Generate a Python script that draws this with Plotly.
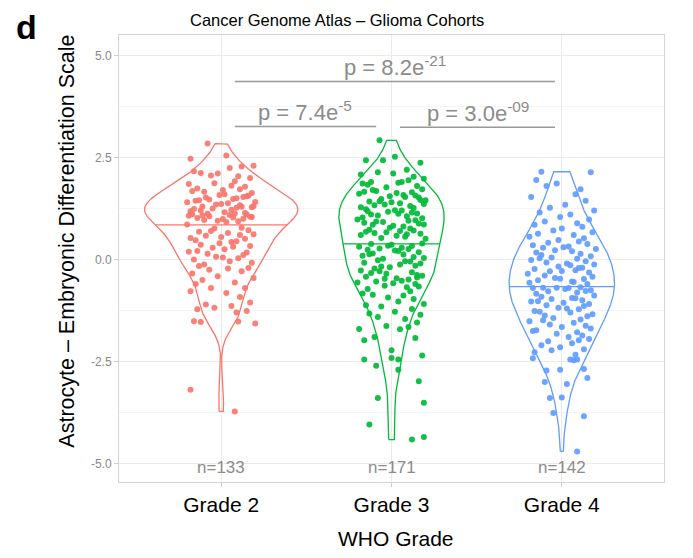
import numpy as np
import plotly.graph_objects as go

# ---------------- data ----------------
groups = ["Grade 2", "Grade 3", "Grade 4"]
colors = ["#F8766D", "#00BA38", "#619CFF"]

grade2_y = [2.84,
            2.47, 2.55,
            2.28, 2.24, 2.16, 2.30,
            2.11, 2.04, 2.12, 2.00, 2.06, 1.92,
            1.85, 1.78, 1.70, 1.66, 1.81, 1.74, 1.63, 1.87, 1.72, 1.68,
            1.60, 1.55, 1.52, 1.48, 1.45, 1.41, 1.58, 1.50, 1.44, 1.38, 1.56, 1.47, 1.53, 1.40,
            1.36, 1.33, 1.30, 1.28, 1.25, 1.22, 1.18, 1.14, 1.35, 1.27, 1.20, 1.31, 1.16, 1.24, 1.29,
            1.12, 1.09, 1.05, 1.02, 0.99, 0.97, 1.10, 1.07, 1.03, 0.95, 1.00, 1.06, 0.94, 1.11,
            0.92, 1.04, 1.08, 1.13, 0.76, 0.72, 0.68, 0.65, 0.86, 0.78, 0.70,
            0.62, 0.58, 0.55, 0.51, 0.47, 0.43, 0.40, 0.60, 0.53, 0.45,
            0.36, 0.33, 0.29, 0.25, 0.21, 0.17, 0.14, 0.31, 0.19,
            0.11, 0.07, 0.03, 0.00, -0.04, -0.08, -0.12, 0.05,
            -0.16, -0.21, -0.25, -0.29, -0.34, -0.22,
            -0.41, -0.45, -0.50, -0.56, -0.60,
            -0.70, -0.70, -0.82, -0.78,
            -0.92, -1.05, -1.10, -1.14,
            -1.22, -1.30, -1.18, -1.26,
            -1.53, -1.57, -1.51, -1.52,
            -3.19, -3.72]
grade2_jitter = [-0.08, -0.18, 0.03, 0.12, 0.05, -0.16, 0.19, -0.02, 0.10, -0.12,
                 0.17, -0.06, 0.08, -0.19, 0.14, 0.01, -0.10, 0.06, -0.14, 0.18,
                 -0.04, 0.11, -0.17, 0.02, 0.15, -0.09, 0.07, -0.13, 0.20, -0.01,
                 0.09, -0.15, 0.04, 0.16, -0.07, 0.13, -0.20, 0.00, 0.11, -0.11,
                 0.18, -0.05, 0.06, -0.18, 0.14, -0.03, 0.09, -0.12, 0.19, 0.02,
                 -0.16, 0.12, -0.08, 0.05, 0.17, -0.14, 0.01, -0.10, 0.15, -0.19,
                 0.07, -0.02, 0.13, -0.07, 0.10, -0.17, 0.03, 0.18, -0.11, 0.08,
                 -0.04, 0.16, -0.13, 0.04, -0.20, 0.12, -0.06, 0.19, -0.09, 0.00,
                 0.14, -0.15, 0.06, -0.01, 0.11, -0.18, 0.09, -0.12, 0.17, -0.05,
                 0.02, -0.14, 0.15, -0.08, 0.07, -0.19, 0.13, -0.03, 0.10, -0.16,
                 0.05, 0.18, -0.10, 0.01, -0.13, 0.16, -0.07, 0.12, -0.17, 0.04,
                 -0.02, 0.19, -0.11, 0.08, -0.15, 0.14, -0.06, 0.03, -0.18, 0.11,
                 0.17, -0.09, 0.06, -0.14, 0.09, -0.04, 0.15, -0.12, 0.20, -0.16,
                 0.10, -0.18, 0.08]

grade3_y = [2.92,
            2.43, 2.43, 2.37, 2.52,
            2.08, 2.20, 2.14, 2.03, 2.11,
            1.98, 1.90, 1.90, 1.86, 1.80, 1.77, 1.94, 1.83, 1.88,
            1.72, 1.68, 1.65, 1.61, 1.58, 1.55, 1.52, 1.70, 1.63, 1.57, 1.66, 1.53,
            1.48, 1.45, 1.42, 1.38, 1.35, 1.31, 1.28, 1.46, 1.40, 1.33, 1.26, 1.43, 1.36,
            1.23, 1.20, 1.17, 1.13, 1.10, 1.06, 1.03, 1.21, 1.15, 1.08, 1.01, 1.18, 1.12,
            0.98, 0.95, 0.92, 0.88, 0.85, 0.81, 0.78, 0.96, 0.90, 0.83, 0.76, 0.93, 0.86,
            0.73, 0.70, 0.67, 0.63, 0.60, 0.56, 0.53, 0.71, 0.65, 0.58, 0.51, 0.68, 0.62,
            -0.47, -0.44, 0.38, 0.36, 0.33, 0.31, 0.29, 0.27, 0.39, 0.34, 0.26,
            0.24, 0.21, 0.18, 0.15, 0.12, 0.09, 0.06, 0.02, 0.22, 0.13, 0.04,
            -0.02, -0.05, -0.08, -0.12, -0.15, -0.19, -0.22, -0.10, -0.17, -0.04,
            -0.27, -0.31, -0.35, -0.38, -0.42, -0.46, -0.49, -0.33, -0.40, -0.29,
            -0.52, -0.56, -0.60, -0.64, -0.68, -0.72, -0.58, -0.66, -0.54,
            -0.78, -0.83, -0.88, -0.93, -0.97, -0.86,
            -1.03, -1.09, -1.15, -1.21, -1.12,
            -1.28, -1.35, -1.41, -1.46, -1.32,
            -1.54, -1.63, -1.65, -1.70, -1.71, -1.90, -1.92, -1.98,
            -2.22, -2.35, -2.41, -2.45, -2.45, -2.60, -2.70, -2.98, -3.39, -3.51, -4.04, -4.35, -4.41]
grade3_jitter = [-0.07, -0.15, -0.05, 0.17, 0.02, -0.18, 0.09, -0.08, 0.13, 0.01,
                 0.19, -0.12, 0.06, -0.17, 0.15, -0.03, 0.10, -0.14, 0.04, 0.18,
                 -0.09, 0.12, -0.19, 0.07, -0.01, 0.16, -0.11, 0.03, 0.14, -0.16,
                 0.08, -0.06, 0.20, -0.13, 0.05, -0.04, 0.11, -0.18, 0.17, 0.00,
                 -0.10, 0.13, -0.07, 0.19, -0.15, 0.06, -0.02, 0.15, -0.12, 0.09,
                 -0.17, 0.02, 0.12, -0.08, 0.18, -0.14, 0.04, -0.20, 0.10, -0.05,
                 0.16, -0.11, 0.07, -0.01, 0.14, -0.16, 0.01, 0.11, -0.09, 0.19,
                 -0.13, 0.05, -0.03, 0.17, -0.18, 0.08, -0.06, 0.13, -0.10, 0.03,
                 0.20, -0.15, 0.09, -0.04, 0.15, -0.12, 0.00, 0.12, -0.19, 0.06,
                 -0.07, 0.18, -0.02, 0.10, -0.14, 0.04, 0.16, -0.11, 0.07, -0.17,
                 0.13, -0.05, 0.02, -0.13, 0.19, -0.08, 0.11, -0.16, 0.05, 0.14,
                 -0.01, -0.10, 0.17, -0.06, 0.08, -0.18, 0.12, -0.03, 0.15, -0.15,
                 0.03, 0.10, -0.12, 0.18, -0.07, 0.06, -0.20, 0.14, -0.04, 0.09,
                 -0.14, 0.01, 0.16, -0.09, 0.11, -0.17, 0.07, -0.02, 0.13, -0.11,
                 0.04, 0.19, -0.06, 0.12, -0.15, 0.02, 0.17, -0.08, 0.08, -0.13,
                 0.15, -0.03, 0.10, -0.19, 0.05, -0.10, 0.14, -0.16,
                 0.00, 0.18, 0.00, -0.16, 0.04, -0.09, 0.04, 0.16, -0.08, 0.19, -0.13, 0.19, 0.12]

grade4_y = [2.15, 2.14, 1.95,
            1.80, 1.72, 1.86,
            1.60, 1.53, 1.44,
            1.34, 1.27, 1.20, 1.15,
            1.10, 1.04, 0.98, 0.93, 0.89,
            0.85, 0.80, 0.76, 0.71, 0.67, 0.63,
            0.60, 0.56, 0.52, 0.48, 0.44, 0.41, 0.38,
            0.35, 0.32, 0.29, 0.26, 0.23, 0.20, 0.17, 0.14, 0.30,
            0.11, 0.08, 0.05, 0.02, -0.01, -0.04, -0.07, -0.10, -0.12, 0.03,
            -0.14, -0.17, -0.20, -0.23, -0.26, -0.29, -0.32, -0.35, -0.21, -0.28,
            -0.39, -0.42, -0.45, -0.48, -0.51, -0.54, -0.57, -0.60, -0.47, -0.55,
            -0.69, -0.68, -0.70, -0.72, -0.75, -0.78, -0.81, -0.84, -0.70, -0.77, -0.69,
            -0.88, -0.91, -0.94, -0.97, -1.00, -1.03, -1.06, -1.09, -1.12, -0.95, -1.02,
            -1.14, -1.18, -1.22, -1.26, -1.30, -1.34, -1.37, -1.20, -1.28,
            -1.39, -1.43, -1.47, -1.51, -1.55, -1.59, -1.62, -1.49,
            -1.65, -1.69, -1.73, -1.78, -1.82, -1.86, -1.75,
            -1.90, -1.95, -2.00, -2.05, -2.10, -1.98,
            -2.15, -2.20, -2.27, -2.33, -2.22,
            -2.45, -2.45, -2.42, -2.47,
            -2.70, -2.68, -2.72,
            -2.90, -3.00, -3.05,
            -3.39, -3.38,
            -3.76, -3.84,
            -4.70]
grade4_jitter = [-0.12, 0.17, -0.15, -0.09, 0.11, -0.03, 0.08, -0.18, 0.14, 0.02,
                 -0.07, 0.19, -0.13, 0.05, -0.01, 0.16, -0.10, 0.09, -0.16, 0.12,
                 0.00, -0.05, 0.18, -0.14, 0.07, -0.19, 0.13, -0.02, 0.10, -0.08,
                 0.15, -0.17, 0.04, -0.11, 0.20, -0.04, 0.06, -0.15, 0.11, 0.01,
                 -0.12, 0.17, -0.06, 0.09, -0.18, 0.14, -0.09, 0.03, 0.19, -0.13,
                 0.05, -0.02, 0.12, -0.16, 0.08, -0.07, 0.16, -0.20, 0.10, 0.00,
                 -0.10, 0.18, -0.04, 0.13, -0.14, 0.06, -0.19, 0.15, -0.01, 0.07,
                 -0.11, 0.11, -0.17, 0.02, 0.17, -0.08, 0.09, -0.15, 0.04, 0.14,
                 -0.03, 0.19, -0.12, 0.06, -0.06, 0.12, -0.18, 0.01, 0.16, -0.09,
                 0.08, -0.14, 0.13, -0.02, 0.10, -0.16, 0.05, 0.18, -0.10, 0.03,
                 -0.13, 0.15, -0.05, 0.11, -0.19, 0.07, -0.07, 0.14, -0.11, 0.00,
                 0.17, -0.15, 0.09, -0.03, 0.12, -0.17, 0.04, 0.16, -0.08, 0.06,
                 -0.12, 0.10, -0.01, 0.13, -0.16, 0.08, -0.06,
                 0.05, 0.09, -0.17, 0.07, -0.01, 0.13, -0.09, 0.15, -0.10, 0.03,
                 -0.07, 0.00, -0.05, 0.13, 0.09]

comparisons = [(1, 3), (1, 2), (2, 3)]
p_texts = ["p = 8.2e<sup>-21</sup>", "p = 7.4e<sup>-5</sup>", "p = 3.0e<sup>-09</sup>"]
bracket_y = [4.36, 3.26, 3.24]

title_text = "Cancer Genome Atlas – Glioma Cohorts"
x_title = "WHO Grade"
y_title = "Astrocyte – Embryonic Differentiation Scale"
y_ticks = [-5.0, -2.5, 0.0, 2.5, 5.0]

# ---------------- helpers ----------------
def bw_nrd0(y):
    y = np.asarray(y, float)
    q75, q25 = np.percentile(y, [75, 25])
    lo = min(np.std(y, ddof=1), (q75 - q25) / 1.34)
    return 0.9 * lo * len(y) ** -0.2

def kde(y, grid):
    y = np.asarray(y, float)
    bw = bw_nrd0(y)
    z = (grid[:, None] - y[None, :]) / bw
    return np.exp(-0.5 * z ** 2).sum(axis=1) / (len(y) * bw * np.sqrt(2 * np.pi))

data_y = [grade2_y, grade3_y, grade4_y]
data_j = [grade2_jitter, grade3_jitter, grade4_jitter]

grids, dens = [], []
for y in data_y:
    g = np.linspace(min(y), max(y), 512)
    grids.append(g)
    dens.append(kde(y, g))
gmax = max(d.max() for d in dens)

FONT = "Liberation Sans, Arial, sans-serif"
fig = go.Figure()

half = 0.45
for i, (g, d) in enumerate(zip(grids, dens)):
    c = i + 1
    vw = d / gmax
    xs = np.concatenate([c - half * vw, (c + half * vw)[::-1], [c - half * vw[0]]])
    ys = np.concatenate([g, g[::-1], [g[0]]])
    fig.add_trace(go.Scatter(x=xs, y=ys, mode="lines",
                             line=dict(color=colors[i], width=1.3),
                             hoverinfo="skip", showlegend=False))
    cdf = np.cumsum(d) / d.sum()
    ym = np.interp(0.5, cdf, g)
    wm = np.interp(ym, g, vw)
    fig.add_trace(go.Scatter(x=[c - half * wm, c + half * wm], y=[ym, ym], mode="lines",
                             line=dict(color=colors[i], width=1.3),
                             hoverinfo="skip", showlegend=False))

for i, (y, j) in enumerate(zip(data_y, data_j)):
    c = i + 1
    fig.add_trace(go.Scatter(x=[c + v for v in j], y=y, mode="markers",
                             marker=dict(color=colors[i], size=6, opacity=0.92,
                                         line=dict(width=0)),
                             showlegend=False, name=groups[i]))

for i, y in enumerate(data_y):
    fig.add_annotation(x=i + 1, y=-5.1, text=f"n={len(y)}", showarrow=False,
                       font=dict(family=FONT, size=17, color="#8c8c8c"),
                       xanchor="center", yanchor="middle")

for (a, b), txt, yb in zip(comparisons, p_texts, bracket_y):
    x0 = a + 0.08 if a == 1 else a + 0.05
    x1 = b - 0.09 if b == 2 else b - 0.04
    fig.add_shape(type="line", x0=x0, x1=x1, y0=yb, y1=yb, xref="x", yref="y",
                  line=dict(color="#999999", width=1.5))
    fig.add_annotation(x=(x0 + x1) / 2, y=yb - 0.02, text=txt, showarrow=False,
                       font=dict(family=FONT, size=22, color="#8c8c8c"),
                       xanchor="center", yanchor="bottom")

# panel label
fig.add_annotation(text="<b>d</b>", xref="paper", yref="paper", x=-0.17, y=1.018,
                   showarrow=False, font=dict(family=FONT, size=34, color="black"),
                   xanchor="center", yanchor="middle")
# axis titles
fig.add_annotation(text=y_title, xref="paper", yref="paper", x=-0.097, y=0.538,
                   textangle=-90, showarrow=False,
                   font=dict(family=FONT, size=21.5, color="black"),
                   xanchor="center", yanchor="middle")
fig.add_annotation(text=x_title, xref="paper", yref="paper", x=0.508, y=-0.126,
                   showarrow=False, font=dict(family=FONT, size=21, color="black"),
                   xanchor="center", yanchor="middle")

fig.update_layout(
    width=693, height=558,
    margin=dict(l=111, r=37, t=27, b=84),
    paper_bgcolor="white", plot_bgcolor="white",
    title=dict(text=title_text, x=0.475, xref="container", xanchor="center",
               y=0.978, yref="container", yanchor="middle",
               font=dict(family=FONT, size=16.5, color="black")),
    font=dict(family=FONT),
)
fig.update_xaxes(range=[0.4, 3.6], tickvals=[1, 2, 3], ticktext=groups,
                 tickfont=dict(family=FONT, size=21, color="black"),
                 ticks="outside", ticklen=4, tickcolor="#cccccc",
                 showgrid=True, gridcolor="#ebebeb", gridwidth=1, zeroline=False,
                 showline=True, mirror=True, linecolor="#d4d4d4", linewidth=1)
fig.update_yaxes(range=[-5.45, 5.5], tickvals=y_ticks,
                 ticktext=[f"{v:.1f}" for v in y_ticks],
                 tickfont=dict(family=FONT, size=12, color="#888888"),
                 ticks="outside", ticklen=4, tickcolor="#cccccc",
                 showgrid=True, gridcolor="#ebebeb", gridwidth=1, zeroline=False,
                 showline=True, mirror=True, linecolor="#d4d4d4", linewidth=1,
                 minor=dict(tickvals=[-3.75, -1.25, 1.25, 3.75], showgrid=True,
                            gridcolor="#f4f4f4", gridwidth=0.8, ticklen=0))

fig.write_html("out.html")
